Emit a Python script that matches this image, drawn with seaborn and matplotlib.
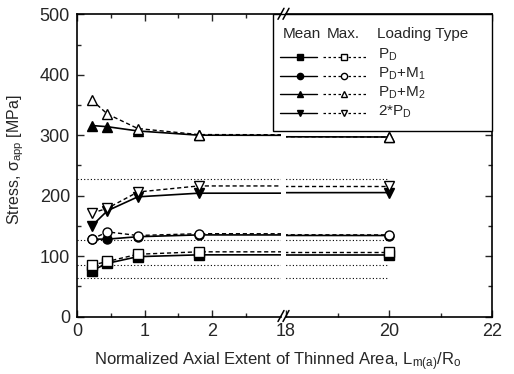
import numpy as np
import seaborn as sns
import matplotlib
matplotlib.use("Agg")
import matplotlib.pyplot as plt
from matplotlib.lines import Line2D
from matplotlib.patches import Rectangle
from matplotlib.ticker import MultipleLocator, FixedLocator

# values (stress in MPa)
x_ratio = [0.22, 0.45, 0.9, 1.8, 20]
pd_mean = [76, 88, 99, 102, 102]
pd_max = [85, 91, 103, 107, 107]
m1_mean = [128, 128, 132, 135, 134]
m1_max = [128, 140, 134, 137, 135]
m2_mean = [316, 314, 307, 300, 297]
m2_max = [358, 335, 311, 301, 297]
p2_mean = [150, 175, 198, 204, 205]
p2_max = [171, 179, 206, 216, 216]
ref_levels = [227, 127, 86, 63]

loading = ["P$_D$", "P$_D$+M$_1$", "P$_D$+M$_2$", "2*P$_D$"]
markers_filled = ["s", "o", "^", "v"]
series = [(pd_mean, pd_max), (m1_mean, m1_max), (m2_mean, m2_max), (p2_mean, p2_max)]

sns.set_style("ticks")
plt.rcParams["font.family"] = ["Liberation Sans", "DejaVu Sans"]
plt.rcParams["mathtext.fontset"] = "custom"
plt.rcParams["mathtext.rm"] = "Liberation Sans"
plt.rcParams["mathtext.it"] = "Liberation Sans:italic"
plt.rcParams["mathtext.default"] = "regular"

W, H = 514, 374
fig = plt.figure(figsize=(W / 100, H / 100), dpi=100)
bot = 1 - 316.5 / H
hgt = (316.5 - 14.3) / H
ax1 = fig.add_axes([77 / W, bot, (281 - 77) / W, hgt])
ax2 = fig.add_axes([286 / W, bot, (492 - 286) / W, hgt])

for ax in (ax1, ax2):
    ax.hlines(ref_levels, 0, 20, colors="black", linestyles=(0, (1, 2)), linewidth=0.8)
    for (mean, mx), mk in zip(series, markers_filled):
        sns.lineplot(x=x_ratio, y=mean, ax=ax, color="black", marker=mk, markersize=6.5,
                     markerfacecolor="black", markeredgecolor="black", markeredgewidth=1,
                     linewidth=1.2, zorder=3)
        sns.lineplot(x=x_ratio, y=mx, ax=ax, color="black", marker=mk, markersize=6.5,
                     markerfacecolor="white", markeredgecolor="black", markeredgewidth=1,
                     linewidth=1.0, linestyle=(0, (3, 2)), zorder=4)
    ax.set_ylim(0, 500)
    ax.yaxis.set_major_locator(MultipleLocator(100))
    ax.yaxis.set_minor_locator(MultipleLocator(50))
    ax.tick_params(which="both", direction="in", top=True, labelsize=13, width=1, pad=5)
    ax.tick_params(which="major", length=5)
    ax.tick_params(which="minor", length=3)
    for s in ax.spines.values():
        s.set_linewidth(1.2)
        s.set_color("black")
    ax.set_xlabel("")
    ax.set_ylabel("")

ax1.set_xlim(0, 3.02)
ax1.xaxis.set_major_locator(FixedLocator([0, 1, 2]))
ax1.xaxis.set_minor_locator(FixedLocator([0.5, 1.5, 2.5]))
ax1.spines["right"].set_visible(False)
ax1.tick_params(axis="y", which="both", left=True, right=False)

ax2.set_xlim(18, 22)
ax2.xaxis.set_major_locator(FixedLocator([18, 20, 22]))
ax2.xaxis.set_minor_locator(FixedLocator([19, 21]))
ax2.spines["left"].set_visible(False)
ax2.tick_params(axis="y", which="both", left=False, right=True, labelleft=False)

ax1.set_ylabel("Stress, $\\sigma_{app}$ [MPa]", fontsize=11.5)
ax1.yaxis.set_label_coords(-0.25, 0.52)
fig.text(278 / W, 1 - 362 / H,
         "Normalized Axial Extent of Thinned Area, L$_{m(a)}$/R$_o$",
         ha="center", va="center", fontsize=12)

# axis break marks
for ypx in (316.5, 14.3):
    for xpx in (281, 286):
        fig.add_artist(Line2D([(xpx - 3) / W, (xpx + 3) / W],
                              [1 - (ypx + 5) / H, 1 - (ypx - 6) / H],
                              transform=fig.transFigure, color="black", lw=1.1))

# legend table
tr = ax2.transAxes
ax2.add_patch(Rectangle((-0.063, 0.615), 1.063, 0.385, transform=tr, facecolor="white",
                        edgecolor="black", lw=1.0, clip_on=False, zorder=10))
hy = 0.936
ax2.text(0.076, hy, "Mean", transform=tr, ha="center", va="center", fontsize=11, zorder=11)
ax2.text(0.279, hy, "Max.", transform=tr, ha="center", va="center", fontsize=11, zorder=11)
ax2.text(0.442, hy, "Loading Type", transform=tr, ha="left", va="center", fontsize=11, zorder=11)
rows_y = [0.860, 0.797, 0.735, 0.672]
for ry, mk, lab in zip(rows_y, markers_filled, loading):
    ax2.add_line(Line2D([-0.029, 0.068, 0.149], [ry] * 3, transform=tr, color="black", lw=1.0,
                        marker=mk, markevery=[1], markersize=4.5, markerfacecolor="black",
                        clip_on=False, zorder=11))
    ax2.add_line(Line2D([0.180, 0.282, 0.392], [ry] * 3, transform=tr, color="black", lw=0.9,
                        linestyle=(0, (2, 2)), marker=mk, markevery=[1], markersize=4.5,
                        markerfacecolor="white", clip_on=False, zorder=11))
    ax2.text(0.447, ry + 0.006, lab, transform=tr, ha="left", va="center", fontsize=11, zorder=11)

fig.savefig("out.png", dpi=100)
